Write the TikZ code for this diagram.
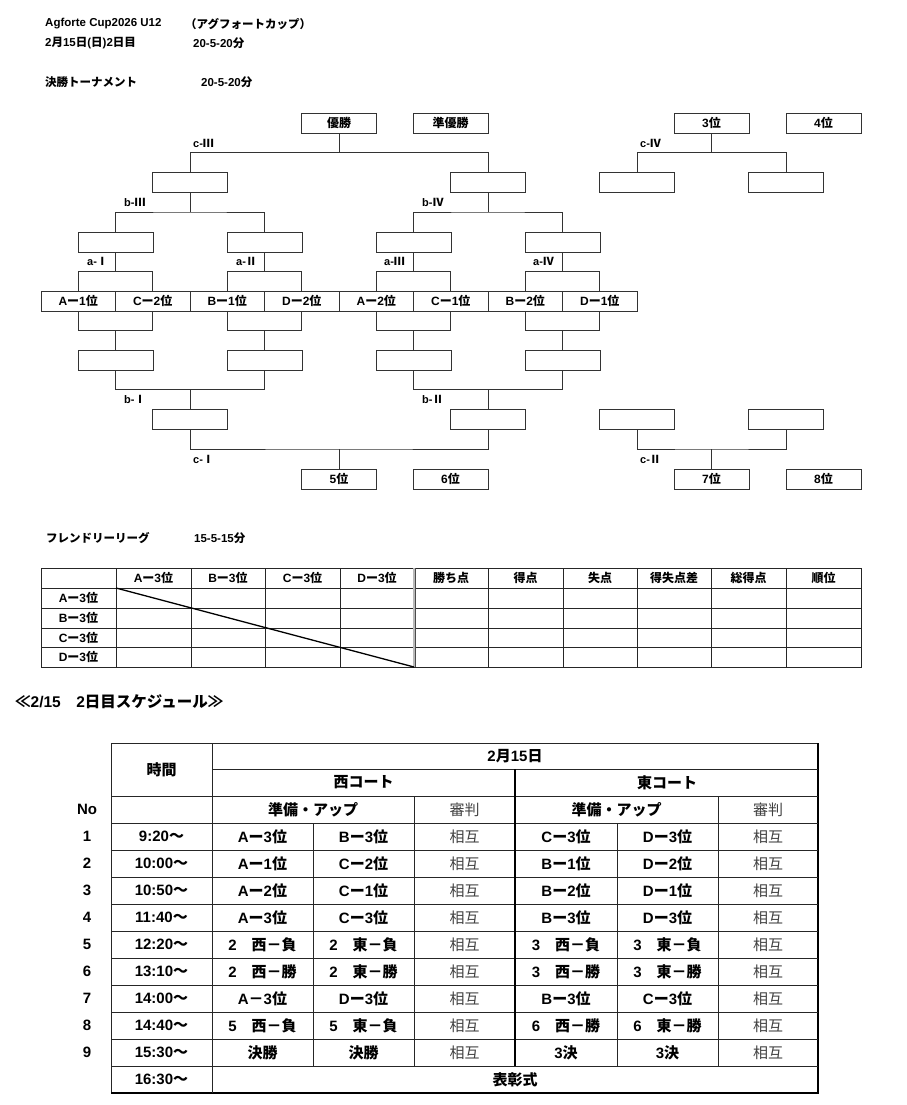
\documentclass[tikz,border=0pt]{standalone}
\usepackage{fontspec}
\setmainfont{Liberation Sans}
\newfontfamily\jpfont{Noto Sans CJK JP}
\usetikzlibrary{calc}

% Japanese characters switch to the CJK family, Latin stays in Liberation Sans
\XeTeXinterchartokenstate=1
\newXeTeXintercharclass\jpclass
\newcount\jpcc
\def\setjp#1#2{\jpcc=#1 \loop \XeTeXcharclass\jpcc=\jpclass
  \ifnum\jpcc<#2 \advance\jpcc by 1 \repeat}
\setjp{"3000}{"30FF}
\setjp{"4E00}{"9FFF}
\setjp{"FF00}{"FFEF}
\setjp{"2160}{"217F}
\setjp{"226A}{"226B}
\XeTeXinterchartoks 0 \jpclass = {\begingroup\jpfont}
\XeTeXinterchartoks 4095 \jpclass = {\begingroup\jpfont}
\XeTeXinterchartoks \jpclass 0 = {\endgroup}
\XeTeXinterchartoks \jpclass 4095 = {\endgroup}

\tikzset{
  bline/.style={draw=black!80, line width=.9pt},
  box/.style={bline, minimum width=75pt, minimum height=20pt, inner sep=0pt,
    font=\bfseries\fontsize{12}{12}\selectfont},
  tbox/.style={box, minimum width=74.5pt},
  rnd/.style={anchor=west, inner sep=0pt, font=\bfseries\fontsize{11}{11}\selectfont},
  head/.style={anchor=west, inner sep=0pt, font=\bfseries\fontsize{11.5}{11.5}\selectfont},
  tline/.style={draw=black!85, line width=.8pt},
  cell/.style={inner sep=0pt, font=\bfseries\fontsize{12}{12}\selectfont},
  sline/.style={draw=black!85, line width=1pt},
  sc/.style={inner sep=0pt, font=\bfseries\fontsize{15}{15}\selectfont},
  sref/.style={inner sep=0pt, text=black!75, font=\fontsize{15}{15}\selectfont},
}

% bracket: two children joined to a parent above / below them
\newcommand{\joinup}[3]{%
  \draw[bline] (#1.north) |- ($(#3.south)!.5!(#3.south |- #1.north)$) coordinate (mid) -| (#2.north);
  \draw[bline] (#3.south) -- (mid);}
\newcommand{\joindown}[3]{%
  \draw[bline] (#1.south) |- ($(#3.north)!.5!(#3.north |- #1.south)$) coordinate (mid) -| (#2.south);
  \draw[bline] (#3.north) -- (mid);}

\begin{document}
\begin{tikzpicture}[x=1pt, y=-1pt]
\useasboundingbox (0,0) rectangle (906,1105);

% --- Headings ---
\node[head] (title) at (45,24) {Agforte Cup2026 U12};
\node[head] (titlejp) at (185,24) {（アグフォートカップ）};
\node[head] (day) at (45,43) {2月15日(日)2日目};
\node[head] (dayfmt) at (193,43) {20-5-20分};
\node[head] (ko) at (45,82) {決勝トーナメント};
\node[head] (kofmt) at (201,82) {20-5-20分};

% --- Final placings ---
\node[box] (win) at (339,123) {優勝};
\node[box] (second) at (450.5,123) {準優勝};
\node[box] (third) at (711.5,123) {3位};
\node[box] (fourth) at (823.5,123) {4位};
\node[box] (fifth) at (339,479) {5位};
\node[box] (sixth) at (450.5,479) {6位};
\node[box] (seventh) at (711.5,479) {7位};
\node[box] (eighth) at (823.5,479) {8位};

% --- Seeded teams ---
\foreach \t [count=\i] in {Aー1位, Cー2位, Bー1位, Dー2位, Aー2位, Cー1位, Bー2位, Dー1位}
  \node[tbox] (t\i) at ({41+74.5*(\i-0.5)},301) {\t};

% --- Empty winner boxes ---
\foreach \x [count=\i] in {115.5, 264.5, 413.5, 562.5} {
  \node[box] (ua\i) at (\x,242) {};
  \node[box] (la\i) at (\x,360) {};
}
\node[box] (ub1) at (190,182) {};
\node[box] (ub2) at (488,182) {};
\node[box] (lb1) at (190,419) {};
\node[box] (lb2) at (488,419) {};
\node[box] (sf3a) at (637,182) {};
\node[box] (sf3b) at (786,182) {};
\node[box] (sf7a) at (637,419) {};
\node[box] (sf7b) at (786,419) {};

% --- Bracket lines ---
\joinup{t1}{t2}{ua1}
\joinup{t3}{t4}{ua2}
\joinup{t5}{t6}{ua3}
\joinup{t7}{t8}{ua4}
\joinup{ua1}{ua2}{ub1}
\joinup{ua3}{ua4}{ub2}
\joinup{ub1}{ub2}{win}
\joinup{sf3a}{sf3b}{third}
\joindown{t1}{t2}{la1}
\joindown{t3}{t4}{la2}
\joindown{t5}{t6}{la3}
\joindown{t7}{t8}{la4}
\joindown{la1}{la2}{lb1}
\joindown{la3}{la4}{lb2}
\joindown{lb1}{lb2}{fifth}
\joindown{sf7a}{sf7b}{seventh}

% --- Round labels ---
\node[rnd] (rc3) at (193,143) {c-Ⅲ};
\node[rnd] (rc4) at (640,143) {c-Ⅳ};
\node[rnd] (rb3) at (124,202) {b-Ⅲ};
\node[rnd] (rb4) at (422,202) {b-Ⅳ};
\node[rnd] (ra1) at (87,261) {a-Ⅰ};
\node[rnd] (ra2) at (236,261) {a-Ⅱ};
\node[rnd] (ra3) at (384,261) {a-Ⅲ};
\node[rnd] (ra4) at (533,261) {a-Ⅳ};
\node[rnd] (rb1) at (124,399) {b-Ⅰ};
\node[rnd] (rb2) at (422,399) {b-Ⅱ};
\node[rnd] (rc1) at (193,459) {c-Ⅰ};
\node[rnd] (rc2) at (640,459) {c-Ⅱ};

% --- Friendly league ---
\node[head] (fl) at (46,538) {フレンドリーリーグ};
\node[head] (flfmt) at (194,538) {15-5-15分};

\draw[tline] (41,568) rectangle (861,667);
\foreach \y in {588, 608, 628, 647}
  \draw[tline] (41,\y) -- (861,\y);
\foreach \x in {116, 191, 265, 340, 488, 563, 637, 711, 786}
  \draw[tline] (\x,568) -- (\x,667);
\draw[double=gray!55, double distance=2pt, line width=.5pt, draw=black!70] (414,568) -- (414,667);
\draw[line width=1.3pt] (116,588) -- (414,667);

\foreach \x/\t [count=\i] in {153.5/Aー3位, 228/Bー3位, 302.5/Cー3位, 377/Dー3位,
    451/勝ち点, 525.5/得点, 600/失点, 674/得失点差, 748.5/総得点, 823.5/順位}
  \node[cell] (fh\i) at (\x,578) {\t};
\foreach \y/\t [count=\i] in {598/Aー3位, 618/Bー3位, 638/Cー3位, 657/Dー3位}
  \node[cell] (fr\i) at (78.5,\y) {\t};

% --- Schedule ---
\node[anchor=west, inner sep=0pt, font=\bfseries\fontsize{15.5}{15.5}\selectfont] (sch) at (15,702)
  {≪2/15　2日目スケジュール≫};

\draw[sline] (111,743) rectangle (818,1093);
\draw[line width=1.8pt] (818,743) -- (818,1093) -- (111,1093);
\draw[sline] (212,769) -- (818,769);
\foreach \y in {796, 823, 850, 877, 904, 931, 958, 985, 1012, 1039, 1066}
  \draw[sline] (111,\y) -- (818,\y);
\draw[sline] (212,743) -- (212,1093);
\draw[line width=2pt] (515,769) -- (515,1066);
\foreach \x in {414, 718}
  \draw[sline] (\x,796) -- (\x,1066);
\foreach \x in {313, 617}
  \draw[sline] (\x,823) -- (\x,1066);

\node[sc] (hTime) at (161.5,769.5) {時間};
\node[sc] (hDate) at (515,756) {2月15日};
\node[sc] (hWest) at (363.5,782.5) {西コート};
\node[sc] (hEast) at (667,782.5) {東コート};
\node[sc] (hNo) at (87,809.5) {No};
\node[sc] (hWup) at (313,809.5) {準備・アップ};
\node[sref] (hWref) at (464.5,809.5) {審判};
\node[sc] (hEup) at (616.5,809.5) {準備・アップ};
\node[sref] (hEref) at (768,809.5) {審判};

\foreach \tm/\wa/\wb/\ea/\eb [count=\i] in {
    9:20〜/Aー3位/Bー3位/Cー3位/Dー3位,
    10:00〜/Aー1位/Cー2位/Bー1位/Dー2位,
    10:50〜/Aー2位/Cー1位/Bー2位/Dー1位,
    11:40〜/Aー3位/Cー3位/Bー3位/Dー3位,
    12:20〜/2　西－負/2　東－負/3　西－負/3　東－負,
    13:10〜/2　西－勝/2　東－勝/3　西－勝/3　東－勝,
    14:00〜/A－3位/Dー3位/Bー3位/Cー3位,
    14:40〜/5　西－負/5　東－負/6　西－勝/6　東－勝,
    15:30〜/決勝/決勝/3決/3決} {
  \pgfmathsetmacro{\ry}{836.5+27*(\i-1)}
  \node[sc] (no\i) at (87,\ry) {\i};
  \node[sc] (tm\i) at (161.5,\ry) {\tm};
  \node[sc] (wa\i) at (262.5,\ry) {\wa};
  \node[sc] (wb\i) at (363.5,\ry) {\wb};
  \node[sref] (wr\i) at (464.5,\ry) {相互};
  \node[sc] (ea\i) at (566,\ry) {\ea};
  \node[sc] (eb\i) at (667.5,\ry) {\eb};
  \node[sref] (er\i) at (768,\ry) {相互};
}
\node[sc] (tmEnd) at (161.5,1079.5) {16:30〜};
\node[sc] (award) at (515,1079.5) {表彰式};

\end{tikzpicture}
\end{document}
